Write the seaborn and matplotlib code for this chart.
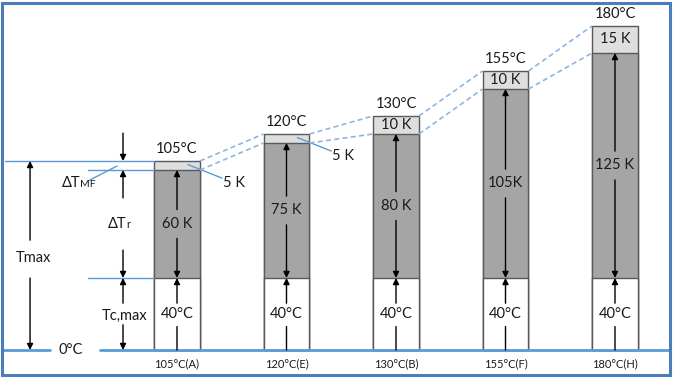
import matplotlib
matplotlib.use("Agg")
import matplotlib.pyplot as plt
import matplotlib.patches as patches
import pandas as pd
import seaborn as sns

# insulation classes and their temperature budget
classes = ["105°C(A)", "120°C(E)", "130°C(B)", "155°C(F)", "180°C(H)"]
t_max = [105, 120, 130, 155, 180]
t_cool = [40, 40, 40, 40, 40]
t_rise = [60, 75, 80, 105, 125]
t_margin = [5, 5, 10, 10, 15]
top_labels = ["105°C", "120°C", "130°C", "155°C", "180°C"]
rise_labels = ["60 K", "75 K", "80 K", "105K", "125 K"]
margin_labels = ["5 K", "5 K", "10 K", "10 K", "15 K"]
cool_labels = ["40°C", "40°C", "40°C", "40°C", "40°C"]

df = pd.DataFrame({
    "cls": classes,
    "total": t_max,
    "rise_top": [c + r for c, r in zip(t_cool, t_rise)],
    "cool": t_cool,
})

sns.set_theme(style="white")
plt.rcParams["font.family"] = ["Lato", "DejaVu Sans"]

BLUE = "#5b9bd5"
DASH = "#8eb4e3"
EDGE = "#595959"
TXT = "#1a1a1a"
W = 0.42
FS = 10.5

fig = plt.figure(figsize=(6.76, 3.78), dpi=100)
ax = fig.add_axes([0, 0, 1, 1])

# stacked bars drawn as overlapping totals
sns.barplot(data=df, x="cls", y="total", order=classes, color="#dedede",
            edgecolor=EDGE, linewidth=1, width=W, errorbar=None, saturation=1, ax=ax)
sns.barplot(data=df, x="cls", y="rise_top", order=classes, color="#a5a5a5",
            edgecolor=EDGE, linewidth=1, width=W, errorbar=None, saturation=1, ax=ax)
sns.barplot(data=df, x="cls", y="cool", order=classes, color="white",
            edgecolor=EDGE, linewidth=1, width=W, errorbar=None, saturation=1, ax=ax)


def arrow(x0, y0, x1, y1, head=True):
    ax.annotate("", xy=(x1, y1), xytext=(x0, y0),
                arrowprops=dict(arrowstyle="-|>" if head else "-", color="black",
                                lw=1, mutation_scale=9, shrinkA=0, shrinkB=0))


half = W / 2
for i in range(len(classes)):
    c = t_cool[i]
    g = c + t_rise[i]
    top = t_max[i]
    # cooling medium part
    arrow(i, c - 14, i, c)
    arrow(i, c - 27, i, 0, head=False)
    ax.text(i, c / 2, cool_labels[i], ha="center", va="center", fontsize=FS, color=TXT)
    # temperature rise part
    mid = c + t_rise[i] / 2
    arrow(i, mid + 8, i, g)
    arrow(i, mid - 8, i, c)
    ax.text(i, mid, rise_labels[i], ha="center", va="center", fontsize=FS, color=TXT)
    # class temperature on top
    ax.text(i, top + 6.5, top_labels[i], ha="center", va="center", fontsize=FS, color=TXT)
    # hot spot margin
    if t_margin[i] >= 10:
        ax.text(i, top - t_margin[i] / 2, margin_labels[i], ha="center", va="center",
                fontsize=FS, color=TXT)
    else:
        ax.plot([i + 0.1, i + 0.41], [top - 2, top - 9.5], color=BLUE, lw=1)
        ax.text(i + 0.52, top - 12, margin_labels[i], ha="center", va="center",
                fontsize=FS, color=TXT)
    ax.text(i, -7.8, classes[i], ha="center", va="center", fontsize=8, color=TXT)

# dashed links between neighbouring classes
for i in range(len(classes) - 1):
    for a, b in [(t_max[i], t_max[i + 1]),
                 (t_cool[i] + t_rise[i], t_cool[i + 1] + t_rise[i + 1])]:
        ax.plot([i + half, i + 1 - half], [a, b], color=DASH, lw=1.2,
                linestyle=(0, (3, 2)))

# reference lines on the left
first_left = -half
ax.plot([-1.571, first_left], [t_max[0], t_max[0]], color=BLUE, lw=1)
ax.plot([-0.813, first_left], [t_cool[0] + t_rise[0]] * 2, color=BLUE, lw=1)
ax.plot([-0.813, first_left], [t_cool[0]] * 2, color=BLUE, lw=1)
ax.plot([-1.6, -1.16], [0, 0], color=BLUE, lw=2)
ax.plot([-0.703, 4.5], [0, 0], color=BLUE, lw=2)
ax.plot([-0.813, -0.548], [93.9, 102.2], color=BLUE, lw=1)

# Tmax dimension
xt = -1.342
arrow(xt, 61, xt, t_max[0])
arrow(xt, 40, xt, 0)
ax.text(-1.315, 51, "Tmax", ha="center", va="center", fontsize=FS, color=TXT)

# dimension column next to first bar
xd = -0.493
arrow(xd, 120.5, xd, t_max[0])
arrow(xd, 84.5, xd, t_cool[0] + t_rise[0])
arrow(xd, 55.5, xd, t_cool[0])
arrow(xd, 26, xd, t_cool[0])
arrow(xd, 14, xd, 0)
ax.text(-0.886, 90.5, "ΔT", ha="right", va="baseline", fontsize=FS, color=TXT)
ax.text(-0.886, 90.5, "MF", ha="left", va="baseline", fontsize=7.5, color=TXT)
ax.text(-0.466, 67.8, "ΔT", ha="right", va="baseline", fontsize=FS, color=TXT)
ax.text(-0.466, 67.8, "r", ha="left", va="baseline", fontsize=8, color=TXT)
ax.text(-0.475, 18.7, "Tc,max", ha="center", va="center", fontsize=FS, color=TXT)
ax.text(-0.968, 0, "0°C", ha="center", va="center", fontsize=FS, color=TXT)

ax.set_xlim(-1.6164, 4.5571)
ax.set_ylim(-15.56, 194.44)
ax.axis("off")

# blue frame round the picture
fig.patches.append(patches.Rectangle((2 / 676, 3 / 378), 668 / 676, 372 / 378,
                                     transform=fig.transFigure, fill=False,
                                     edgecolor="#4a7ebb", lw=2.2))

fig.savefig("out.png", dpi=100)
